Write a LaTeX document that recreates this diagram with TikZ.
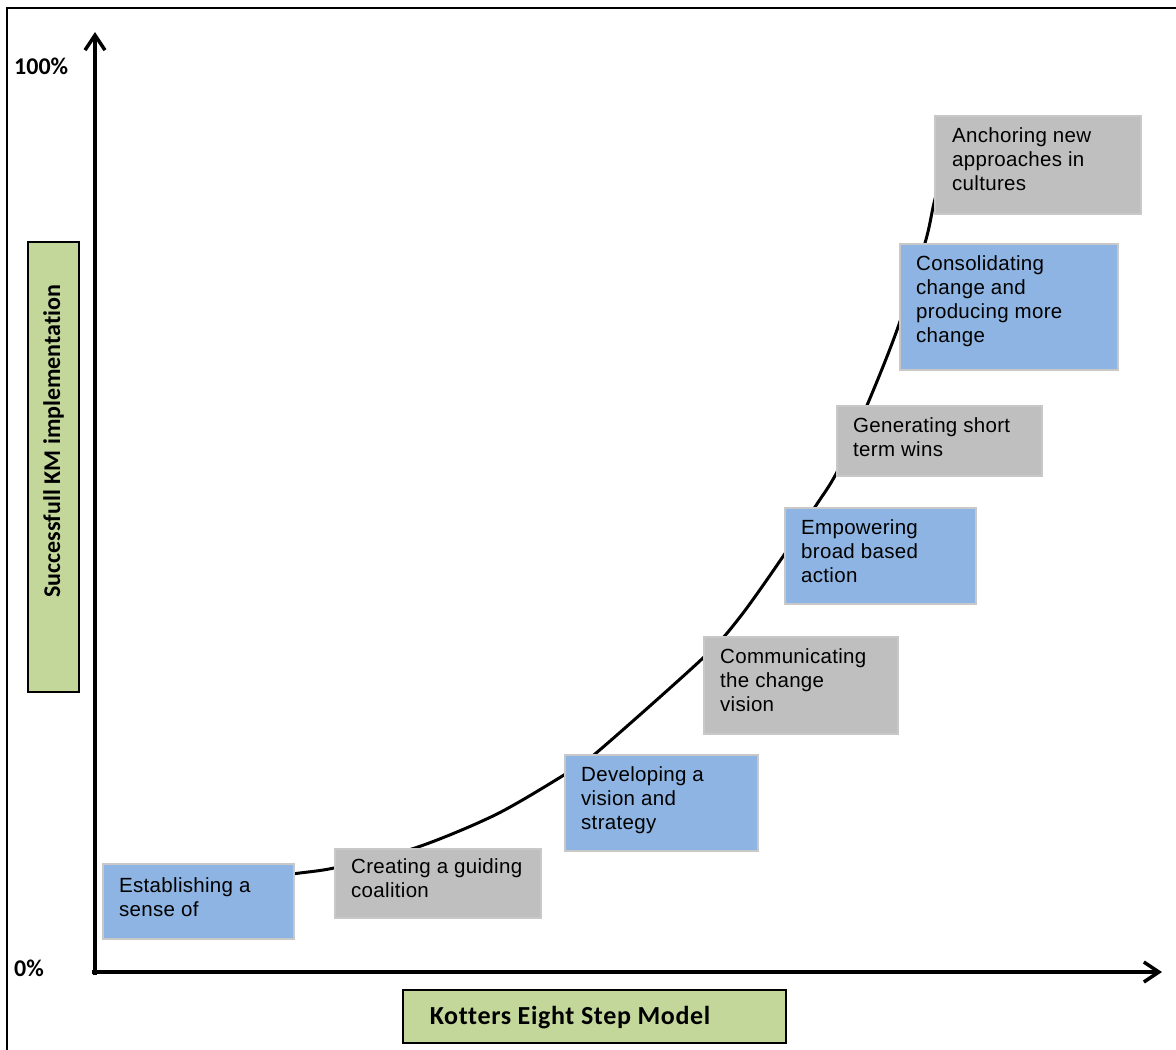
\documentclass[tikz,border=0pt]{standalone}
\usepackage{fontspec}
\newfontfamily\boxfont[LetterSpace=1.5]{Liberation Sans}
\newfontfamily\labfont[Ligatures=NoCommon]{Carlito}
\newfontfamily\widelabfont[LetterSpace=2.5,Ligatures=NoCommon]{Carlito}
\usetikzlibrary{arrows.meta}
\definecolor{stepblue}{RGB}{141,180,226}
\definecolor{stepgray}{RGB}{191,191,191}
\definecolor{stepedge}{RGB}{200,200,200}
\definecolor{axisgreen}{RGB}{196,215,155}
\tikzset{
  stepbox/.style={draw=stepedge, line width=1.5pt, inner sep=0pt, anchor=north west},
  bluebox/.style={stepbox, fill=stepblue},
  graybox/.style={stepbox, fill=stepgray},
  steptext/.style={anchor=north west, inner sep=0pt, align=left,
    font=\boxfont\fontsize{20.5}{24}\selectfont},
  axisbox/.style={draw=black, line width=2.5pt, fill=axisgreen, inner sep=0pt},
  axistext/.style={inner sep=0pt, font=\labfont\bfseries\fontsize{24}{28}\selectfont},
  axisline/.style={line width=3.5pt, -{Straight Barb[length=15pt,width=20pt,line width=3.5pt]}},
  pct/.style={font=\labfont\bfseries\fontsize{24}{28}\selectfont, inner sep=0pt, anchor=west}
}
\begin{document}
\begin{tikzpicture}[x=1pt,y=-1pt]
\useasboundingbox (0,0) rectangle (1176,1050);
% outer frame
\draw[line width=2.5pt] (7,8) rectangle (1190,1065);

% growth curve (drawn first, the boxes cover it)
\draw[line width=3pt] plot[smooth, tension=0.5] coordinates {
  (270,880) (293,874) (334,868) (415,848) (495,815) (564,775) (595,754)
  (703,658) (740,617) (784,555) (815,507) (837,472)
  (868,403) (897,330) (925,243) (934,203) (945,160)};

% axes
\coordinate (origin) at (95,975);
\coordinate (ytop) at (95,32);
\coordinate (xstart) at (92,972);
\coordinate (xend) at (1162,972);
\draw[axisline] (origin) -- (ytop);
\draw[axisline] (xstart) -- (xend);
\node[pct] (p100) at (14,66) {100\%};
\node[pct] (p0) at (14,968) {0\%};

% axis titles
\node[axisbox, minimum width=51pt, minimum height=450pt] (ylab) at (53.5,467) {};
\node[axistext, rotate=90] (ytext) at (53.5,441) {Successfull KM implementation};
\node[axisbox, minimum width=383pt, minimum height=53pt] (xlab) at (594.5,1016.5) {};
\node[axistext, font=\widelabfont\bfseries\fontsize{26}{30}\selectfont] (xtext) at (570,1018) {Kotters Eight Step Model};

% the eight steps
\node[bluebox, minimum width=191pt, minimum height=75pt] (s1) at (102,863) {};
\node[steptext] (t1) at ([shift={(17,14)}]s1.north west) {Establishing a\\sense of};

\node[graybox, minimum width=206pt, minimum height=69pt] (s2) at (334,848) {};
\node[steptext] (t2) at ([shift={(17,10)}]s2.north west) {Creating a guiding\\coalition};

\node[bluebox, minimum width=193pt, minimum height=96pt] (s3) at (564,754) {};
\node[steptext] (t3) at ([shift={(17,12)}]s3.north west) {Developing a\\vision and\\strategy};

\node[graybox, minimum width=194pt, minimum height=97pt] (s4) at (703,636) {};
\node[steptext] (t4) at ([shift={(17,12)}]s4.north west) {Communicating\\the change\\vision};

\node[bluebox, minimum width=191pt, minimum height=96pt] (s5) at (784,507) {};
\node[steptext] (t5) at ([shift={(17,12)}]s5.north west) {Empowering\\broad based\\action};

\node[graybox, minimum width=205pt, minimum height=70pt] (s6) at (836,405) {};
\node[steptext] (t6) at ([shift={(17,12)}]s6.north west) {Generating short\\term wins};

\node[bluebox, minimum width=218pt, minimum height=126pt] (s7) at (899,243) {};
\node[steptext] (t7) at ([shift={(17,12)}]s7.north west) {Consolidating\\change and\\producing more\\change};

\node[graybox, minimum width=206pt, minimum height=98pt] (s8) at (934,115) {};
\node[steptext] (t8) at ([shift={(18,12)}]s8.north west) {Anchoring new\\approaches in\\cultures};
\end{tikzpicture}
\end{document}
